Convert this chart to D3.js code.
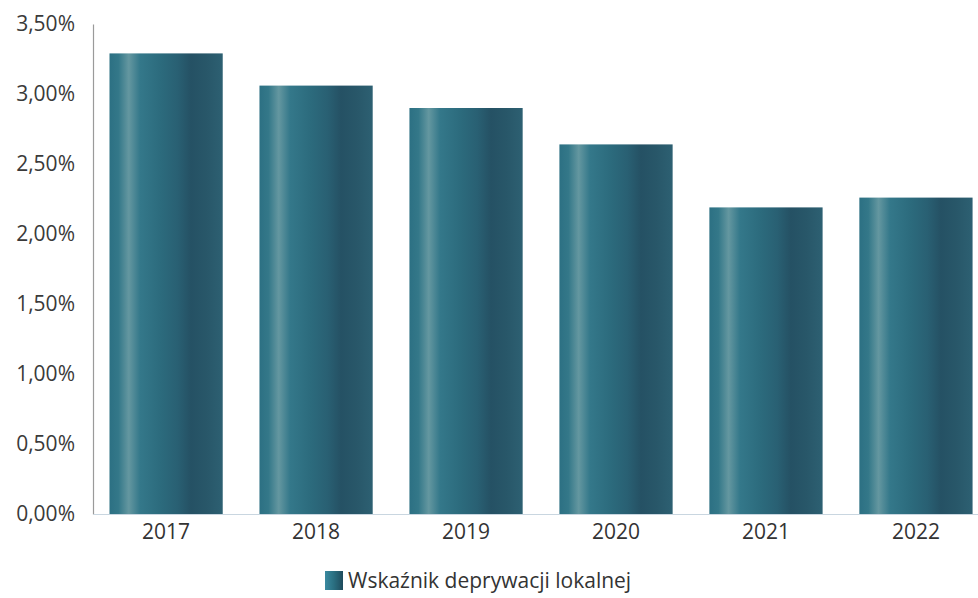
<!DOCTYPE html>
<html>
<head>
<meta charset="utf-8">
<script src="https://cdn.jsdelivr.net/npm/d3@7"></script>
<style>
  html, body { margin: 0; padding: 0; background: #ffffff; }
  svg { display: block; }
  svg text { font-family: "Open Sans", "DejaVu Sans", sans-serif; }
</style>
</head>
<body>
<svg id="chart" width="978" height="598"></svg>
<script>
const years = ["2017", "2018", "2019", "2020", "2021", "2022"];
const values = [3.29, 3.06, 2.90, 2.64, 2.19, 2.26];
const yTicks = [0, 0.5, 1.0, 1.5, 2.0, 2.5, 3.0, 3.5];
const seriesName = "Wskaźnik deprywacji lokalnej";

const svg = d3.select("#chart");
const axisX = 93, plotTop = 24, plotBottom = 514;
const FONT = '"Open Sans", "DejaVu Sans", sans-serif';
const FS = 21;

const y = d3.scaleLinear().domain([0, 3.5]).range([plotBottom, plotTop]);
const x = d3.scaleBand().domain(years)
  .range([axisX, axisX + 150.6 * 5.95])
  .paddingInner(0.245).paddingOuter(0.11);

// gradient
const defs = svg.append("defs");
const g = defs.append("linearGradient").attr("id", "barGrad")
  .attr("x1", "0%").attr("x2", "100%").attr("y1", "0%").attr("y2", "0%");
[[0, "#2c7083"], [0.08, "#347889"], [0.17, "#6497a0"], [0.27, "#34788a"],
 [0.45, "#2c6b7d"], [0.60, "#296073"], [0.72, "#255164"], [0.86, "#285769"], [1, "#2d6072"]]
  .forEach(([o, c]) => g.append("stop").attr("offset", o).attr("stop-color", c));

const legGrad = defs.append("linearGradient").attr("id", "legGrad")
  .attr("x1", "0%").attr("x2", "100%").attr("y1", "0%").attr("y2", "0%");
[[0, "#3a8aa0"], [0.5, "#2a6e80"], [1, "#1f4b5c"]]
  .forEach(([o, c]) => legGrad.append("stop").attr("offset", o).attr("stop-color", c));

// bars
svg.append("g").selectAll("rect").data(years).join("rect")
  .attr("x", d => x(d))
  .attr("width", x.bandwidth())
  .attr("y", (d, i) => y(values[i]))
  .attr("height", (d, i) => y(0) - y(values[i]))
  .attr("fill", "url(#barGrad)");

// y axis
const yAxis = d3.axisLeft(y).tickValues(yTicks).tickSize(0).tickPadding(18)
  .tickFormat(d => d.toFixed(2).replace(".", ",") + "%");
const ya = svg.append("g").attr("transform", `translate(${axisX},0)`).call(yAxis)
  .attr("font-family", FONT).attr("font-size", FS);
ya.select(".domain").attr("stroke", "#9a9a9a").attr("stroke-width", 1.2);
ya.selectAll("text").attr("fill", "#3a3a3a");

// x axis
const xAxis = d3.axisBottom(x).tickSize(0).tickPadding(10);
const xa = svg.append("g").attr("transform", `translate(0,${plotBottom})`).call(xAxis)
  .attr("font-family", FONT).attr("font-size", FS);
xa.select(".domain").attr("stroke", "#c9d6e0").attr("stroke-width", 1.2);
xa.selectAll("text").attr("fill", "#333333");

// legend
const leg = svg.append("g").attr("transform", "translate(325,571)");
leg.append("rect").attr("x", 0).attr("y", 0).attr("width", 18).attr("height", 19)
  .attr("fill", "url(#legGrad)");
leg.append("text").attr("x", 23).attr("y", 9.5).attr("dy", "0.35em")
  .attr("font-family", FONT).attr("font-size", FS).attr("fill", "#333333").text(seriesName);
</script>
</body>
</html>
